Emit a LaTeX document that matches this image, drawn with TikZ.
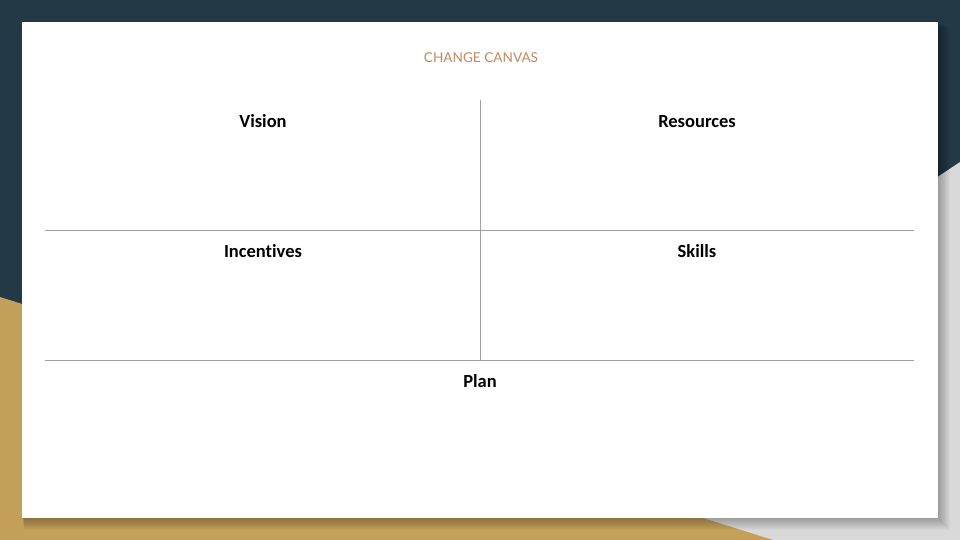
\documentclass[tikz,border=0pt]{standalone}
\usepackage{fontspec}
\setmainfont[Ligatures=NoCommon]{Carlito}
\newfontfamily\titlefont{Lato}
\definecolor{darkbg}{RGB}{35,57,69}
\definecolor{goldbg}{RGB}{196,160,90}
\definecolor{graybg}{RGB}{217,217,217}
\definecolor{titlecol}{RGB}{192,138,94}
\definecolor{rulecol}{RGB}{160,160,160}
\tikzset{
  rule/.style={draw=rulecol, line width=0.9pt},
  heading/.style={font=\fontsize{18.5}{22}\selectfont\bfseries, text=black, inner sep=0pt, anchor=center}
}
\begin{document}
\begin{tikzpicture}[x=1pt,y=-1pt]
\useasboundingbox (0,0) rectangle (960,540);
\fill[darkbg] (0,0) rectangle (960,540);
\fill[graybg] (960,162) -- (960,540) -- (396,540) -- cycle;
\fill[goldbg] (0,297) -- (773,540) -- (0,540) -- cycle;
% shadow
\foreach \s in {1,...,12}{
  \fill[black, opacity=0.025] (22+\s*0.2,22+\s*0.5) rectangle (938+\s*1.0,518+\s*1.0);
}
\fill[white] (22,22) rectangle (938,518);
\node[font=\titlefont\fontsize{13.6}{16}\selectfont, text=titlecol, inner sep=0pt] (title) at (481,57.5) {CHANGE CANVAS};
\coordinate (h1l) at (45,230.5); \coordinate (h1r) at (914,230.5);
\coordinate (h2l) at (45,360.5); \coordinate (h2r) at (914,360.5);
\coordinate (vt) at (480.5,100); \coordinate (vb) at (480.5,360.5);
\draw[rule] (h1l) -- (h1r);
\draw[rule] (h2l) -- (h2r);
\draw[rule] (vt) -- (vb);
\node[heading] (vision) at (263,121.5) {Vision};
\node[heading] (resources) at (697,121.5) {Resources};
\node[heading] (incentives) at (263,251.5) {Incentives};
\node[heading] (skills) at (697,251.5) {Skills};
\node[heading] (plan) at (480,381.5) {Plan};
\end{tikzpicture}
\end{document}
